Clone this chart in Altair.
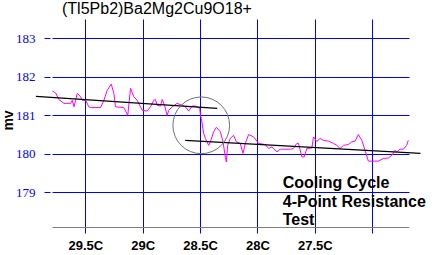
import altair as alt
import pandas as pd

# magenta measured series (temperature C, millivolts)
temp = [29.787, 29.758, 29.730, 29.686, 29.628, 29.613, 29.599, 29.584, 29.570, 29.541,
        29.526, 29.497, 29.469, 29.454, 29.367, 29.338, 29.309, 29.274, 29.251, 29.237,
        29.164, 29.130, 29.106, 29.077, 29.048, 29.019, 29.004, 28.961, 28.932, 28.903,
        28.889, 28.874, 28.845, 28.830, 28.810, 28.787, 28.773, 28.743, 28.700, 28.657,
        28.628, 28.599, 28.570, 28.541, 28.503, 28.497, 28.489, 28.469, 28.454, 28.425,
        28.410, 28.382, 28.358, 28.323, 28.300, 28.280, 28.271, 28.260, 28.237, 28.208,
        28.184, 28.150, 28.126, 28.106, 28.077, 28.034, 27.990, 27.932, 27.903, 27.874,
        27.830, 27.802, 27.715, 27.686, 27.657, 27.643, 27.613, 27.593, 27.570, 27.526,
        27.512, 27.483, 27.454, 27.425, 27.382, 27.338, 27.309, 27.280, 27.251, 27.208,
        27.178, 27.150, 27.121, 27.091, 27.063, 27.034, 26.947, 26.903, 26.860, 26.830,
        26.802, 26.787, 26.758, 26.730, 26.700, 26.686]
mv = [181.63, 181.58, 181.41, 181.31, 181.31, 181.39, 181.22, 181.39, 181.57, 181.48,
      181.39, 181.39, 181.22, 181.20, 181.20, 181.39, 181.65, 181.81, 181.57, 181.22,
      181.20, 181.00, 181.70, 181.48, 181.39, 181.22, 181.13, 181.11, 181.22, 181.39,
      181.41, 181.26, 181.24, 181.41, 181.26, 181.00, 181.13, 181.22, 181.31, 181.26,
      181.22, 181.11, 181.24, 181.24, 181.18, 181.00, 180.92, 180.53, 180.40, 180.22,
      180.31, 180.57, 180.69, 180.57, 180.31, 179.91, 179.79, 180.22, 180.40, 180.48,
      180.31, 180.27, 180.01, 180.27, 180.50, 180.44, 180.27, 180.24, 180.14, 180.18,
      180.05, 180.12, 180.12, 180.14, 180.27, 180.27, 179.92, 179.92, 180.14, 180.15,
      180.44, 180.32, 180.40, 180.35, 180.33, 180.27, 180.22, 180.14, 180.22, 180.24,
      180.31, 180.33, 180.50, 180.35, 180.09, 179.81, 179.81, 179.88, 179.89, 179.96,
      180.09, 180.05, 180.12, 180.12, 180.22, 180.35]

# fitted trend segments
trend_id = ["before", "before", "after", "after"]
trend_t = [29.93, 28.35, 28.63, 26.58]
trend_v = [181.49, 181.18, 180.35, 180.01]

# highlighted transition
circle_t = [28.49]
circle_v = [180.74]

# annotation
note_lines = ["Cooling Cycle", "4-Point Resistance", "Test"]
note_t = [27.78, 27.78, 27.78]
note_v = [179.11, 178.63, 178.15]

x_ticks = [29.5, 29, 28.5, 28, 27.5, 27]
y_ticks = [179, 180, 181, 182, 183]
title_text = "(Tl5Pb2)Ba2Mg2Cu9O18+"

sans = "Liberation Sans"

x_scale = alt.Scale(domain=[26.68, 29.79], reverse=True, nice=False, zero=False)
y_scale = alt.Scale(domain=[178.1, 183.5], nice=False, zero=False)

x_enc = alt.X("t:Q", scale=x_scale, axis=alt.Axis(
    values=x_ticks, title=None,
    labelExpr="datum.value == 27 ? '' : datum.value + 'C'",
    labelFont=sans, labelFontSize=13, labelFontWeight="bold", labelColor="black",
    labelPadding=6, tickColor="#0000FF", tickSize=6,
    domainColor="#808080", grid=True, gridColor="#0000FF", gridOpacity=1, gridWidth=1,
))
y_enc = alt.Y("v:Q", scale=y_scale, axis=alt.Axis(
    values=y_ticks, format="d", title="mv",
    labelFont="Liberation Serif", labelFontSize=13, labelColor="#0000FF",
    labelPadding=9, tickColor="#0000FF", tickSize=6, offset=2, domain=False,
    grid=True, gridColor="#0000FF", gridOpacity=1, gridWidth=1,
    titleFont=sans, titleFontSize=14, titleFontWeight="bold", titleColor="black",
    titleX=-38, titleY=101, titleBaseline="alphabetic", titleAngle=-90,
))

df_main = pd.DataFrame({"t": temp, "v": mv})
df_trend = pd.DataFrame({"id": trend_id, "t": trend_t, "v": trend_v})
df_circle = pd.DataFrame({"t": circle_t, "v": circle_v})
df_note = pd.DataFrame({"line": note_lines, "t": note_t, "v": note_v})

main = alt.Chart(df_main).mark_line(color="#FF00FF", strokeWidth=1).encode(
    x=x_enc, y=y_enc, order="idx:Q"
).transform_window(idx="row_number()")

trend = alt.Chart(df_trend).mark_line(color="black", strokeWidth=1.3).encode(
    x=x_enc, y=y_enc, detail="id:N"
)

circle = alt.Chart(df_circle).mark_point(
    shape="circle", size=3217, filled=False, color="#707070", strokeWidth=1, opacity=1
).encode(x=x_enc, y=y_enc)

note = alt.Chart(df_note).mark_text(
    align="left", baseline="alphabetic", font=sans, fontSize=16, fontWeight="bold", color="black"
).encode(x=x_enc, y=y_enc, text="line:N")

chart = alt.layer(main, trend, circle, note).properties(
    width=357, height=208,
    padding={"left": 52, "top": 19, "right": 31, "bottom": 28},
    autosize=alt.AutoSizeParams(type="none"),
    title=alt.TitleParams(
        title_text, anchor="start", frame="group", dx=10, dy=15, offset=4,
        baseline="alphabetic", font=sans, fontSize=16, fontWeight="normal", color="black",
    ),
    background="white",
).configure_view(stroke=None)

chart.save("out.html", embed_options={"renderer": "svg", "actions": False})
